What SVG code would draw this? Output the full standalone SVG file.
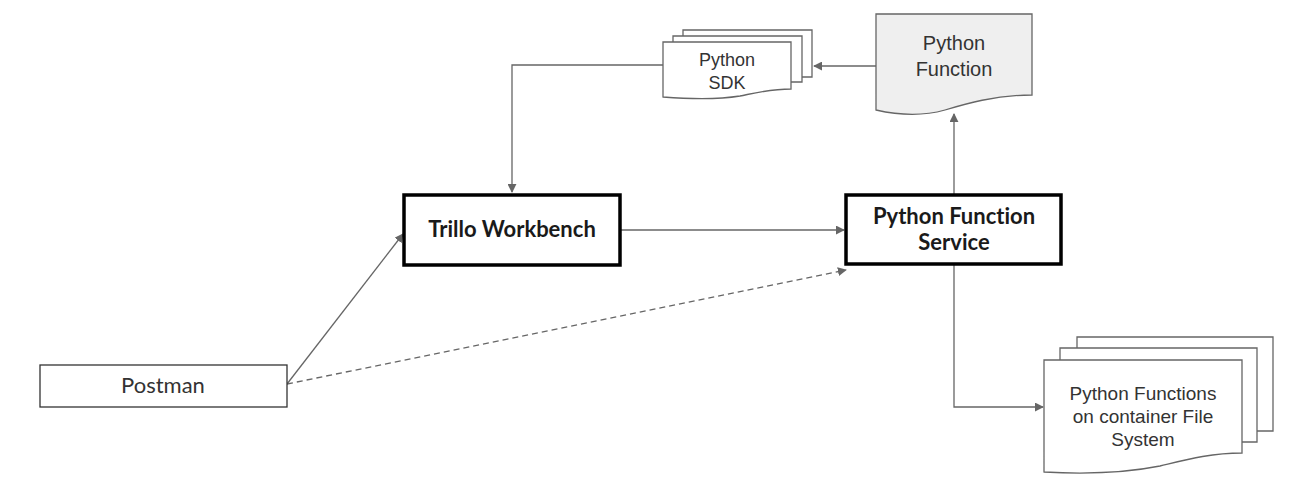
<svg xmlns="http://www.w3.org/2000/svg" width="1312" height="486" viewBox="0 0 1312 486">
<style>
.doc{fill:#ffffff;stroke:#666666;stroke-width:1.3}
.docg{fill:#efefef;stroke:#666666;stroke-width:1.3}
.box{fill:#ffffff;stroke:#000000;stroke-width:3.5}
.plain{fill:#ffffff;stroke:#333333;stroke-width:1.3}
.conn{fill:none;stroke:#666666;stroke-width:1.3}
.dash{stroke-dasharray:6 4}
.t1{font-family:"Liberation Sans",Arial,sans-serif;font-size:20px;fill:#333333;text-anchor:middle}
.t2{font-family:"Liberation Sans",Arial,sans-serif;font-size:18px;fill:#333333;text-anchor:middle}
.t3{font-family:"Liberation Sans",Arial,sans-serif;font-size:19px;fill:#333333;text-anchor:middle}
.tb{font-family:Lato,"Noto Sans",sans-serif;font-size:22px;font-weight:bold;fill:#1a1a1a;text-anchor:middle;font-variant-ligatures:none}
.tp{font-family:Lato,"Noto Sans",sans-serif;font-size:22px;fill:#333333;text-anchor:middle;font-variant-ligatures:none}
</style>
<defs>
<marker id="ah" viewBox="0 0 10 10" refX="9" refY="5" markerWidth="9" markerHeight="9" markerUnits="userSpaceOnUse" orient="auto">
<path d="M0,0 L10,5 L0,10 z" fill="#666666"/>
</marker>
</defs>
<g id="connectors">
<path class="conn" d="M876,66 H814" marker-end="url(#ah)"/>
<path class="conn" d="M663,65 H512 V192" marker-end="url(#ah)"/>
<path class="conn" d="M620,230 H844" marker-end="url(#ah)"/>
<path class="conn" d="M954,195 V114" marker-end="url(#ah)"/>
<path class="conn" d="M287,384 L403,234" marker-end="url(#ah)"/>
<path class="conn dash" d="M287,384 L846,270" marker-end="url(#ah)"/>
<path class="conn" d="M954,264 V407 H1043" marker-end="url(#ah)"/>
</g>
<g id="python-function">
<path class="docg" d="M876,14 H1032 V95 C995,95 965,104 945,110 C920,117 898,115 876,110 Z"/>
<text class="t1" x="954" y="50">Python</text>
<text class="t1" x="954" y="76">Function</text>
</g>
<g id="python-sdk">
<path class="doc" d="M683,30 H812 V77 H683 Z"/>
<path class="doc" d="M673,36 H802 V82 H673 Z"/>
<path class="doc" d="M663,42 H791 V89 C770,89 755,93 740,96 C715,100 690,99 663,97 Z"/>
<text class="t2" x="727" y="66">Python</text>
<text class="t2" x="727" y="89">SDK</text>
</g>
<g id="trillo-workbench">
<rect class="box" x="404" y="195" width="216" height="70"/>
<text class="tb" x="512" y="237">Trillo Workbench</text>
</g>
<g id="python-function-service">
<rect class="box" x="846" y="195" width="215" height="69"/>
<text class="tb" x="954" y="224">Python Function</text>
<text class="tb" x="954" y="250">Service</text>
</g>
<g id="postman">
<rect class="plain" x="40" y="365" width="247" height="42"/>
<text class="tp" x="163" y="393">Postman</text>
</g>
<g id="file-system">
<path class="doc" d="M1077,337 H1273 V431 H1077 Z"/>
<path class="doc" d="M1060,348 H1257 V442 H1060 Z"/>
<path class="doc" d="M1044,360 H1242 V453 C1210,453 1185,460 1160,466 C1120,474 1080,474 1044,472 Z"/>
<text class="t3" x="1143" y="400">Python Functions</text>
<text class="t3" x="1143" y="423">on container File</text>
<text class="t3" x="1143" y="446">System</text>
</g>
</svg>
